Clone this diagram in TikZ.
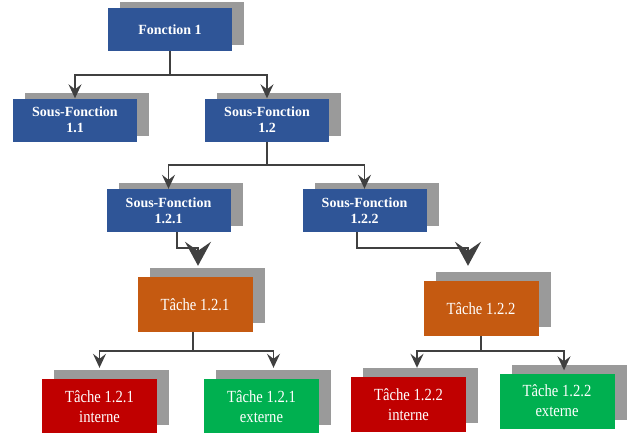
\documentclass[tikz,border=0pt]{standalone}
\usepackage{fontspec}
\setmainfont{Liberation Serif}
\newfontfamily\taskfont[FakeStretch=0.86]{Liberation Serif}
\usetikzlibrary{arrows.meta,shadows}

\definecolor{fctblue}{HTML}{2F5597}
\definecolor{taskorange}{HTML}{C55A11}
\definecolor{taskred}{HTML}{C00000}
\definecolor{taskgreen}{HTML}{00B050}
\definecolor{shadowgray}{HTML}{9A9A9A}
\definecolor{linegray}{HTML}{404040}

\begin{document}
\begin{tikzpicture}[x=1pt, y=-1pt,
  fct/.style={fill=fctblue, text=white, minimum width=124pt, minimum height=43pt, inner sep=0pt, align=center,
    font=\fontsize{14}{16}\selectfont\bfseries,
    drop shadow={shadow xshift=12pt, shadow yshift=6pt, fill=shadowgray, opacity=1}},
  task/.style={text=white, minimum width=115pt, minimum height=55pt, inner sep=0pt, align=center,
    font=\taskfont\fontsize{17}{20}\selectfont,
    drop shadow={shadow xshift=12pt, shadow yshift=9pt, fill=shadowgray, opacity=1}},
  link/.style={draw=linegray, line width=1.6pt, -{Stealth[length=14pt, width=13pt, inset=5pt]}},
  biglink/.style={draw=linegray, line width=1.6pt, -{Stealth[length=24pt, width=26pt, inset=9pt]}}
]
\useasboundingbox (0,0) rectangle (628,432);

% Fonction
\node[fct] (f1) at (170,29.5) {Fonction 1};

% Sous-fonctions
\node[fct] (s11) at (75,120) {Sous-Fonction\\1.1};
\node[fct] (s12) at (267,120) {Sous-Fonction\\1.2};
\node[fct] (s121) at (168.5,210.5) {Sous-Fonction\\1.2.1};
\node[fct] (s122) at (364.5,210.5) {Sous-Fonction\\1.2.2};

% Taches
\node[task, fill=taskorange] (t121) at (195,304.5) {Tâche 1.2.1};
\node[task, fill=taskorange] (t122) at (481,308.5) {Tâche 1.2.2};

\node[task, fill=taskred] (t121i) at (99.5,406.5) {Tâche 1.2.1\\interne};
\node[task, fill=taskgreen] (t121e) at (261.5,406.5) {Tâche 1.2.1\\externe};
\node[task, fill=taskred] (t122i) at (408.5,404.5) {Tâche 1.2.2\\interne};
\node[task, fill=taskgreen] (t122e) at (557,401) {Tâche 1.2.2\\externe};

% Liens
\draw[link] (f1.south) -- ++(0,24) -| (s11.north);
\draw[link] (f1.south) -- ++(0,24) -| (s12.north);

\draw[link] (s12.south) -- ++(0,23) -| (s121.north);
\draw[link] (s12.south) -- ++(0,23) -| (s122.north);

\draw[biglink] ([xshift=8.5pt]s121.south) -- ++(0,16) -| ([xshift=3pt,yshift=11pt]t121.north);
\draw[biglink] ([xshift=-7.5pt]s122.south) -- ++(0,16) -| ([xshift=-13pt,yshift=15pt]t122.north);

\draw[link] ([xshift=-2pt]t121.south) -- ++(0,19) -| ([yshift=11pt]t121i.north);
\draw[link] ([xshift=-2pt]t121.south) -- ++(0,19) -| ([xshift=12pt,yshift=11pt]t121e.north);
\draw[link] (t122.south) -- ++(0,15) -| ([xshift=8.5pt,yshift=9pt]t122i.north);
\draw[link] (t122.south) -- ++(0,15) -| ([xshift=7pt,yshift=3pt]t122e.north);

\end{tikzpicture}
\end{document}
